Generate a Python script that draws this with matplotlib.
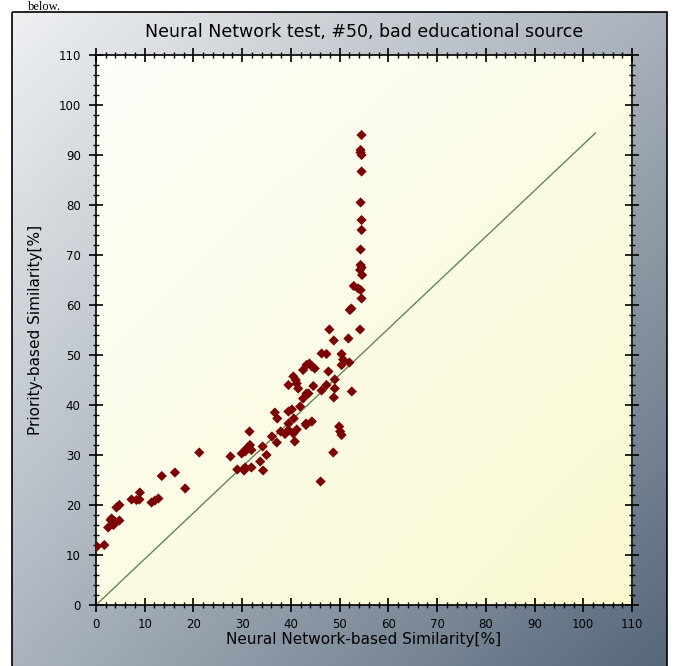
import numpy as np
import matplotlib
matplotlib.use("Agg")
import matplotlib.pyplot as plt
from matplotlib.patches import Rectangle

# ---- data ----
nn_sim = [0.2, 1.7, 2.5, 3.0, 3.9, 4.8, 3.6, 3.2, 4.2, 4.8, 7.3, 8.3, 9.0, 8.9,
          11.4, 12.1, 12.8, 13.5, 16.2, 18.3, 21.2,
          27.6, 29.9, 30.9, 31.6, 30.6, 31.9, 31.5, 29.0, 30.4, 30.6, 31.9, 34.3,
          33.7, 34.2, 35.0, 36.1, 37.1, 36.7, 37.2, 37.9, 38.8, 39.5, 40.5, 41.2,
          40.8, 39.5, 40.6, 39.5, 40.2, 41.9, 42.5, 43.2, 43.1, 39.5, 41.2, 41.5,
          41.0,
          47.9, 54.2, 48.8, 51.8, 46.3, 47.3, 50.4, 50.7, 50.4, 52.0, 43.2, 44.3,
          44.9, 42.5, 43.8, 47.7, 40.5, 44.6, 47.3, 49.0, 46.3, 49.0, 52.5, 48.8,
          43.6,
          49.9, 50.1, 50.4, 48.7, 46.1, 43.1, 44.3,
          54.5, 54.3, 54.3, 54.5, 54.5, 54.3, 54.5, 54.5, 54.3, 54.3, 54.5, 54.2,
          54.6, 52.9, 53.8, 54.3, 54.5, 52.1, 52.4]
pr_sim = [11.7, 12.0, 15.5, 17.0, 16.7, 16.9, 16.0, 17.3, 19.5, 20.0, 21.1, 21.0, 22.5, 21.1,
          20.5, 20.9, 21.3, 25.8, 26.5, 23.3, 30.5,
          29.7, 30.3, 31.3, 32.0, 30.7, 31.0, 34.7, 27.1, 26.9, 27.5, 27.5, 26.9,
          28.7, 31.7, 30.0, 33.7, 32.5, 38.5, 37.3, 34.7, 34.2, 35.0, 34.3, 35.1,
          32.7, 36.3, 37.3, 38.7, 39.1, 39.7, 41.3, 42.3, 36.3, 44.0, 44.3, 43.3,
          45.0,
          55.1, 55.1, 52.9, 53.3, 50.3, 50.2, 50.2, 49.1, 48.0, 48.5, 48.0, 47.7,
          47.3, 47.0, 48.3, 46.7, 45.7, 43.8, 44.0, 45.1, 42.9, 43.3, 42.7, 41.5,
          42.3,
          35.7, 34.7, 34.0, 30.5, 24.7, 36.0, 36.7,
          94.0, 91.0, 90.5, 90.0, 86.7, 80.5, 77.0, 75.0, 71.1, 68.0, 67.5, 67.0,
          66.0, 63.8, 63.3, 63.0, 61.3, 59.0, 59.3]
line_x = [0, 102.5]
line_y = [0, 94.4]
ticks = list(range(0, 111, 10))
title = "Neural Network test, #50, bad educational source"
xlabel = "Neural Network-based Similarity[%]"
ylabel = "Priority-based Similarity[%]"

W, H = 676, 666
fig = plt.figure(figsize=(W / 100, H / 100), dpi=100)
fig.patch.set_facecolor("white")

# ---- background frame with diagonal gradient ----
bg = fig.add_axes([0, 0, 1, 1])
bg.set_xlim(0, W)
bg.set_ylim(H, 0)
bg.axis("off")

def hex2rgb(h):
    h = h.lstrip("#")
    return np.array([int(h[i:i + 2], 16) / 255 for i in (0, 2, 4)])

def bilinear(tl, tr, bl, br, n=200):
    u = np.linspace(0, 1, n)[None, :, None]
    v = np.linspace(0, 1, n)[:, None, None]
    tl, tr, bl, br = map(hex2rgb, (tl, tr, bl, br))
    top = tl * (1 - u) + tr * u
    bot = bl * (1 - u) + br * u
    return top * (1 - v) + bot * v

fx0, fx1, fy0, fy1 = 12, 667, 12, 672
grad = bilinear("#eef0f2", "#a9b1ba", "#aab3bd", "#56677a")
bg.imshow(grad, extent=[fx0, fx1, fy1, fy0], aspect="auto", interpolation="bilinear", zorder=0)
bg.add_patch(Rectangle((fx0, fy0), fx1 - fx0, fy1 - fy0, fill=False, ec="black", lw=1.2, zorder=1))
bg.text(28, 10, "below.", fontsize=9, family="Liberation Serif", va="baseline", ha="left", color="black")

# ---- main plot ----
L, R, T, B = 96, 632, 55, 605
ax = fig.add_axes([L / W, 1 - B / H, (R - L) / W, (B - T) / H])
ax.set_xlim(0, 110)
ax.set_ylim(0, 110)
pgrad = bilinear("#fefefa", "#fcfce8", "#fcfce6", "#faf9d0")
ax.imshow(pgrad, extent=[0, 1, 0, 1], transform=ax.transAxes, aspect="auto",
          interpolation="bilinear", zorder=0)

ax.plot(line_x, line_y, color="#66874f", lw=1.0, zorder=2)
ax.scatter(nn_sim, pr_sim, marker="D", s=27, color="#7d0000", edgecolors="none", zorder=3)

ax.set_xticks(ticks)
ax.set_yticks(ticks)
ax.set_xticks(np.arange(0, 111, 2), minor=True)
ax.set_yticks(np.arange(0, 111, 2), minor=True)
ax.tick_params(axis="both", which="major", direction="inout", length=10, width=1.2,
               labelsize=8.5, color="black", pad=4, top=True, right=True)
ax.tick_params(axis="y", which="major", pad=6)
ax.tick_params(axis="both", which="minor", direction="inout", length=5, width=1.0,
               top=True, right=True)
for s in ax.spines.values():
    s.set_linewidth(1.2)

ax.set_title(title, fontsize=12.5, pad=13)
ax.set_xlabel(xlabel, fontsize=11, labelpad=1)
ax.yaxis.set_label_coords(-0.098, 0.487)
ax.set_ylabel(ylabel, fontsize=11)

fig.savefig("out.png", dpi=100)
